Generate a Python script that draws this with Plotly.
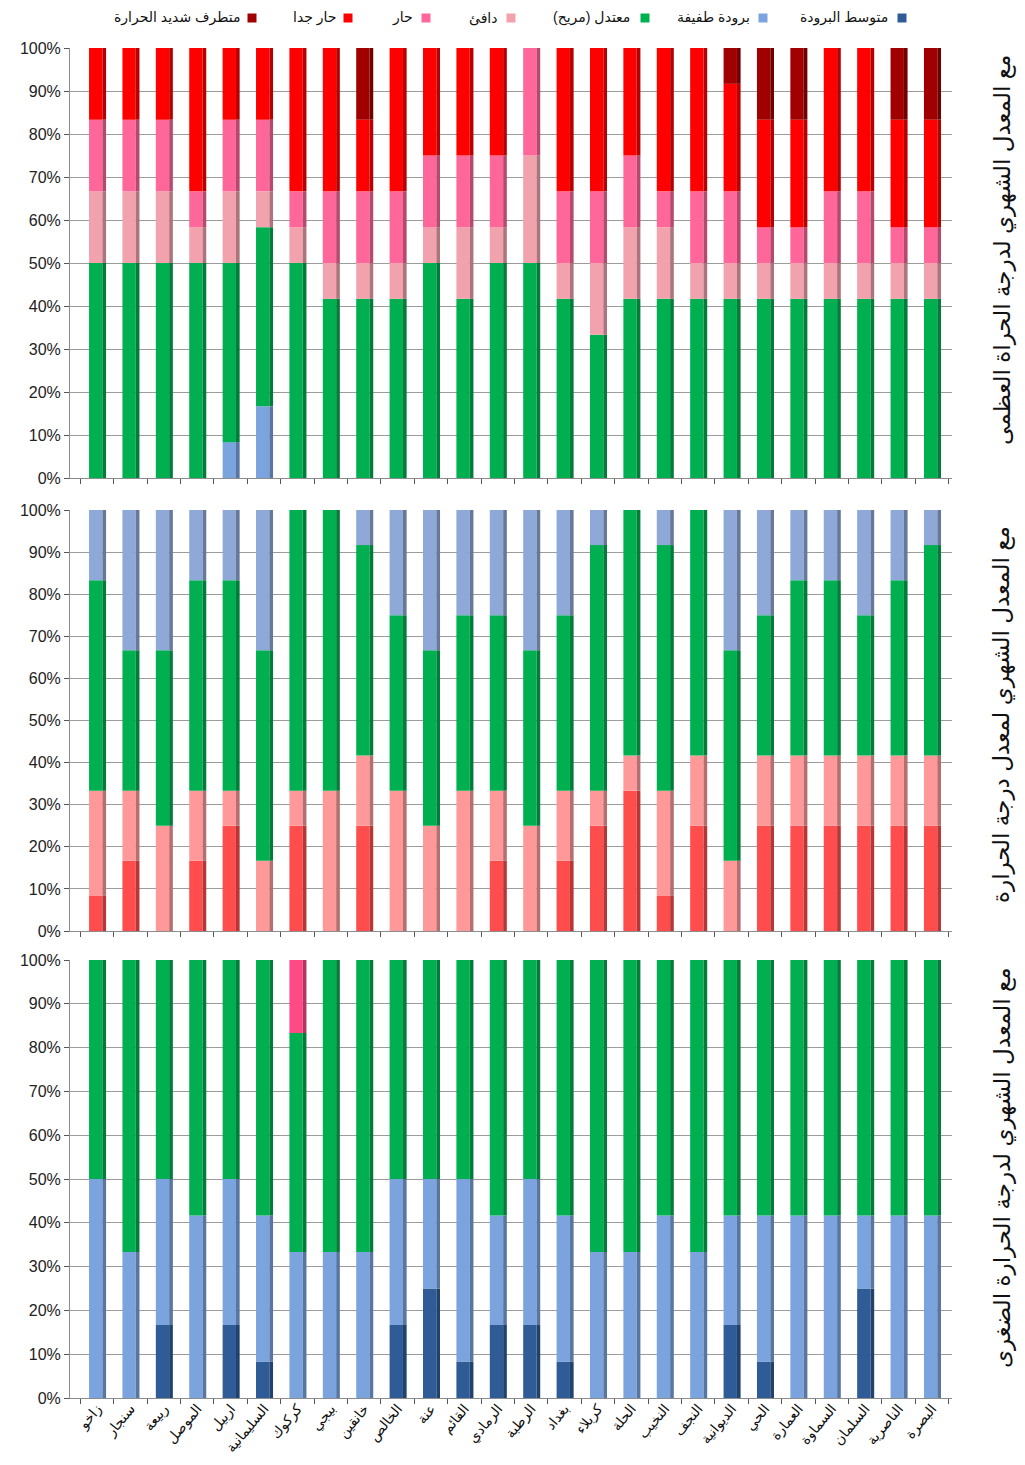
import numpy as np
import plotly.graph_objects as go

# ---------------- DATA (number of months out of 12) ----------------
stations = ["زاخو", "سنجار", "ربيعة", "الموصل", "اربيل", "السليمانية", "كركوك", "بيجي",
            "خانقين", "الخالص", "عنة", "القائم", "الرمادي", "الرطبة", "بغداد", "كربلاء",
            "الحلة", "النخيب", "النجف", "الديوانية", "الحي", "العمارة", "السماوة",
            "السلمان", "الناصرية", "البصرة"]

legend_labels = ["متوسط البرودة", "برودة طفيفة", "معتدل (مريح)", "دافئ", "حار", "حار جدا",
                 "متطرف شديد الحرارة"]

panel_titles = ["مع المعدل الشهري لدرجة الحراة العظمى",
                "مع المعدل الشهري لمعدل درجة الحرارة",
                "مع المعدل الشهري لدرجة الحرارة الضغرى"]

# Panel 1: monthly mean of maximum temperature
max_slight_cold = [0, 0, 0, 0, 1, 2, 0, 0, 0, 0, 0, 0, 0, 0, 0, 0, 0, 0, 0, 0, 0, 0, 0, 0, 0, 0]
max_moderate    = [6, 6, 6, 6, 5, 5, 6, 5, 5, 5, 6, 5, 6, 6, 5, 4, 5, 5, 5, 5, 5, 5, 5, 5, 5, 5]
max_warm        = [2, 2, 2, 1, 2, 1, 1, 1, 1, 1, 1, 2, 1, 3, 1, 2, 2, 2, 1, 1, 1, 1, 1, 1, 1, 1]
max_hot         = [2, 2, 2, 1, 2, 2, 1, 2, 2, 2, 2, 2, 2, 3, 2, 2, 2, 1, 2, 2, 1, 1, 2, 2, 1, 1]
max_very_hot    = [2, 2, 2, 4, 2, 2, 4, 4, 2, 4, 3, 3, 3, 0, 4, 4, 3, 4, 4, 3, 3, 3, 4, 4, 3, 3]
max_extreme     = [0, 0, 0, 0, 0, 0, 0, 0, 2, 0, 0, 0, 0, 0, 0, 0, 0, 0, 0, 1, 2, 2, 0, 0, 2, 2]

# Panel 2: monthly mean of mean temperature (stacked hot at bottom)
mean_very_hot    = [1, 2, 0, 2, 3, 0, 3, 0, 3, 0, 0, 0, 2, 0, 2, 3, 4, 1, 3, 0, 3, 3, 3, 3, 3, 3]
mean_hot         = [3, 2, 3, 2, 1, 2, 1, 4, 2, 4, 3, 4, 2, 3, 2, 1, 1, 3, 2, 2, 2, 2, 2, 2, 2, 2]
mean_moderate    = [6, 4, 5, 6, 6, 6, 8, 8, 6, 5, 5, 5, 5, 5, 5, 7, 7, 7, 7, 6, 4, 5, 5, 4, 5, 6]
mean_slight_cold = [2, 4, 4, 2, 2, 4, 0, 0, 1, 3, 4, 3, 3, 4, 3, 1, 0, 1, 0, 4, 3, 2, 2, 3, 2, 1]

# Panel 3: monthly mean of minimum temperature
min_mod_cold    = [0, 0, 2, 0, 2, 1, 0, 0, 0, 2, 3, 1, 2, 2, 1, 0, 0, 0, 0, 2, 1, 0, 0, 3, 0, 0]
min_slight_cold = [6, 4, 4, 5, 4, 4, 4, 4, 4, 4, 3, 5, 3, 4, 4, 4, 4, 5, 4, 3, 4, 5, 5, 2, 5, 5]
min_moderate    = [6, 8, 6, 7, 6, 7, 6, 8, 8, 6, 6, 6, 7, 6, 7, 8, 8, 7, 8, 7, 7, 7, 7, 7, 7, 7]
min_hot         = [0, 0, 0, 0, 0, 0, 2, 0, 0, 0, 0, 0, 0, 0, 0, 0, 0, 0, 0, 0, 0, 0, 0, 0, 0, 0]

y_ticks = [0, 10, 20, 30, 40, 50, 60, 70, 80, 90, 100]

# ---------------- STYLE ----------------
OFF = 8                      # default page margin around the figure
W, H = 1025 - 2 * OFF, 1465 - 2 * OFF


def fx(px):
    return (px - OFF) / W


def fy(py):
    return 1 - (py - OFF) / H


C_MODCOLD = "#2F5C97"
C_SLCOLD = "#7BA4DE"
C_GREEN = "#00B050"
C_WARM = "#F2A2AC"
C_HOT = "#FF6699"
C_VHOT = "#FF0000"
C_EXT = "#A00000"
legend_colors = [C_MODCOLD, C_SLCOLD, C_GREEN, C_WARM, C_HOT, C_VHOT, C_EXT]

panels = [
    [(max_slight_cold, C_SLCOLD), (max_moderate, C_GREEN), (max_warm, C_WARM),
     (max_hot, C_HOT), (max_very_hot, C_VHOT), (max_extreme, C_EXT)],
    [(mean_very_hot, "#FF4D4D"), (mean_hot, "#FF9999"), (mean_moderate, C_GREEN),
     (mean_slight_cold, "#8EA9D8")],
    [(min_mod_cold, C_MODCOLD), (min_slight_cold, C_SLCOLD), (min_moderate, C_GREEN),
     (min_hot, "#FF4A86")],
]
panel_px = [(48, 478), (510, 931), (960, 1398)]   # (100% line, 0% line) in page pixels
title_cy = [250, 715, 1168]


def darker(hexc, f=0.72):
    h = hexc.lstrip("#")
    r, g, b = (int(h[i:i + 2], 16) for i in (0, 2, 4))
    return "#%02x%02x%02x" % (int(r * f), int(g * f), int(b * f))


fig = go.Figure()
FONT = "Arial, 'Liberation Sans', 'DejaVu Sans', sans-serif"

for p, series in enumerate(panels):
    xa = "x" if p == 0 else f"x{p + 1}"
    ya = "y" if p == 0 else f"y{p + 1}"
    base = np.zeros(len(stations))
    for vals, col in series:
        pct = np.array(vals, dtype=float) / 12.0 * 100.0
        fig.add_trace(go.Bar(x=stations, y=pct, base=base, width=0.40, offset=-0.24,
                             marker=dict(color=col, line=dict(width=0)),
                             xaxis=xa, yaxis=ya, showlegend=False,
                             hovertemplate="%{x}: %{y:.1f}%<extra></extra>"))
        fig.add_trace(go.Bar(x=stations, y=pct, base=base, width=0.11, offset=0.16,
                             marker=dict(color=darker(col), line=dict(width=0)),
                             xaxis=xa, yaxis=ya, showlegend=False, hoverinfo="skip"))
        base = base + pct

layout = dict(width=W, height=H, margin=dict(l=0, r=0, t=0, b=0, autoexpand=False),
              plot_bgcolor="white", paper_bgcolor="white", barmode="overlay",
              font=dict(family=FONT, color="#222222"), showlegend=False)

for p, (ytop, ybot) in enumerate(panel_px):
    xk = "xaxis" if p == 0 else f"xaxis{p + 1}"
    yk = "yaxis" if p == 0 else f"yaxis{p + 1}"
    ya = "y" if p == 0 else f"y{p + 1}"
    xa = "x" if p == 0 else f"x{p + 1}"
    layout[xk] = dict(domain=[fx(70), fx(952)], range=[-0.81, 25.6], anchor=ya,
                      type="category", showline=True, linecolor="#8C8C8C", linewidth=1,
                      ticks="outside", tickson="boundaries", ticklen=5, tickcolor="#555555",
                      showgrid=False, showticklabels=(p == 2), tickangle=-50, automargin=False,
                      categoryorder="array", categoryarray=stations, ticklabelstandoff=-4,
                      tickfont=dict(size=14, color="#111111", family=FONT))
    layout[yk] = dict(domain=[fy(ybot), fy(ytop)], range=[0, 100], anchor=xa,
                      tickvals=y_ticks, ticktext=[f"{v}%" for v in y_ticks], automargin=False,
                      showline=True, linecolor="#8C8C8C", ticks="outside", ticklen=5,
                      tickcolor="#555555", showgrid=True, gridcolor="#9C9C9C", gridwidth=1,
                      tickfont=dict(size=16, color="#222222", family=FONT), zeroline=False)

annotations = []
shapes = []
for cy, title in zip(title_cy, panel_titles):
    annotations.append(dict(text=title, x=fx(1002), y=fy(cy),
                            xref="paper", yref="paper", showarrow=False, textangle=-90,
                            font=dict(size=23, color="#111111", family=FONT),
                            xanchor="center", yanchor="middle"))

# custom right-to-left legend (label text with its colour square on the right)
leg_text_right = [890, 752, 632, 500, 415, 338, 242]
leg_square_cx = [902, 763, 645, 511, 426, 348, 252]
leg_y = 18
for lab, col, tr, sq in zip(legend_labels, legend_colors, leg_text_right, leg_square_cx):
    annotations.append(dict(text=lab, x=fx(tr), y=fy(leg_y), xref="paper", yref="paper",
                            showarrow=False, xanchor="right", yanchor="middle",
                            font=dict(size=14, color="#111111", family=FONT)))
    shapes.append(dict(type="rect", xref="paper", yref="paper",
                       x0=fx(sq - 4.5), x1=fx(sq + 4.5),
                       y0=fy(leg_y + 4.5), y1=fy(leg_y - 4.5),
                       fillcolor=col, line=dict(width=0)))

layout["annotations"] = annotations
layout["shapes"] = shapes
fig.update_layout(**layout)
fig.write_html("out.html")
